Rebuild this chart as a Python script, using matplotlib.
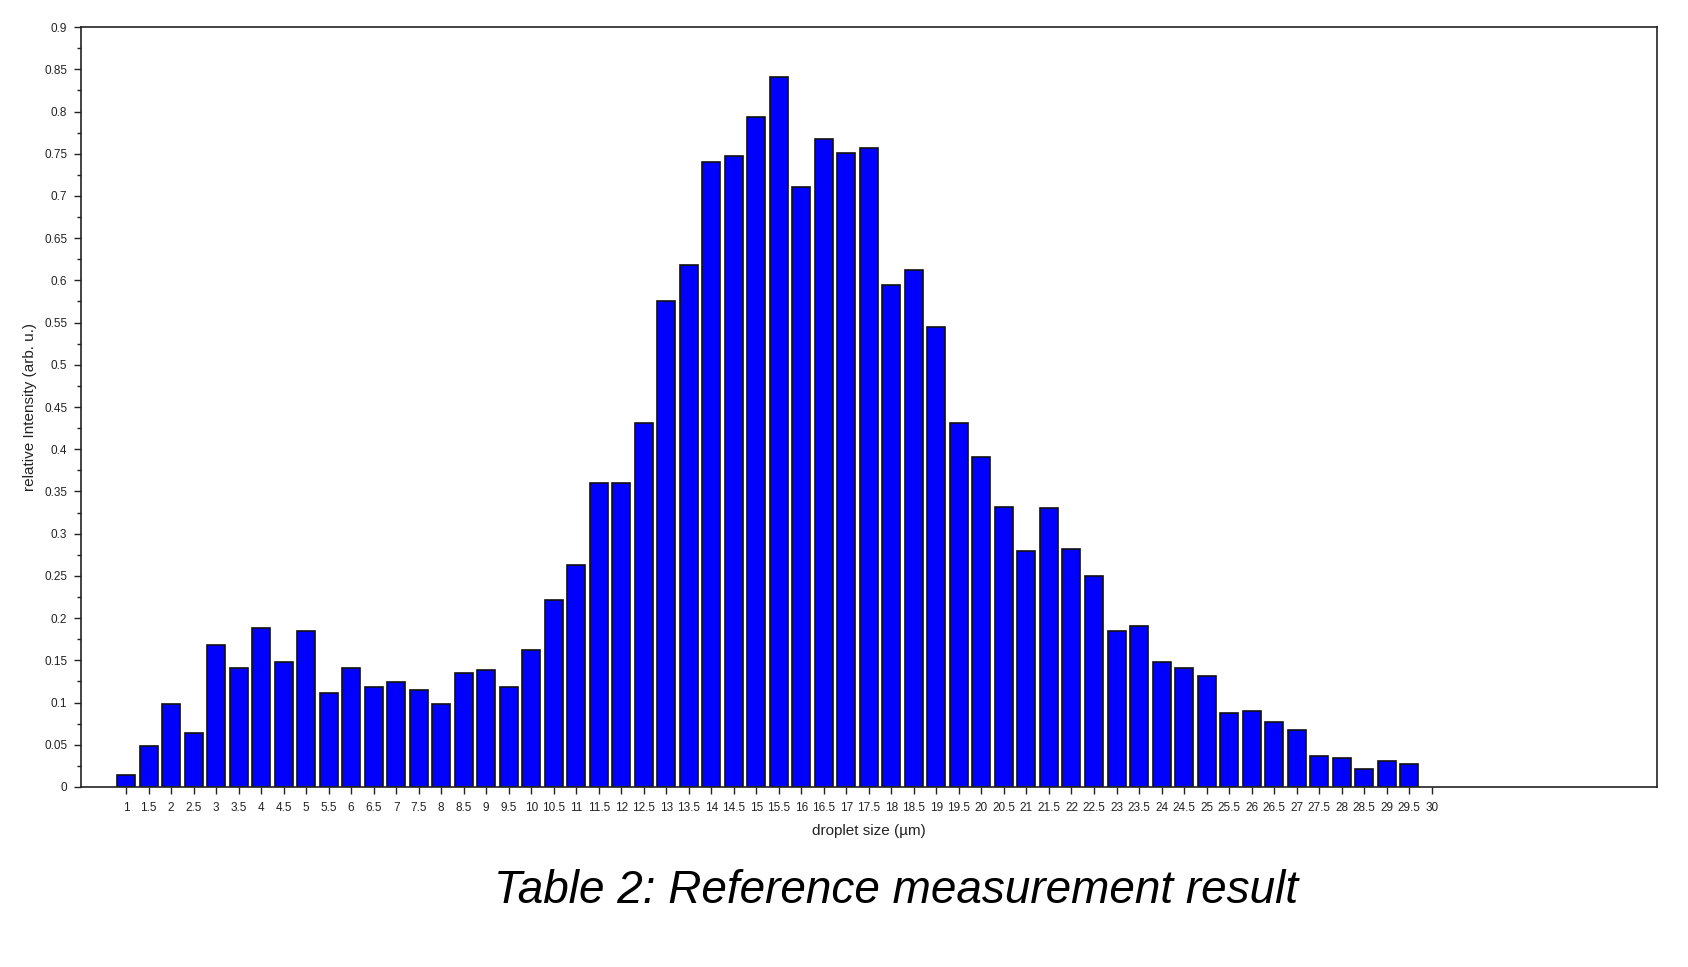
import numpy as np
import matplotlib
matplotlib.use("Agg")
import matplotlib.pyplot as plt
from matplotlib.ticker import MultipleLocator, FuncFormatter

plt.rcParams['font.family'] = ['Liberation Sans', 'DejaVu Sans']

# droplet size classes (µm) and measured relative intensity
sizes = [1, 1.5, 2, 2.5, 3, 3.5, 4, 4.5, 5, 5.5, 6, 6.5, 7, 7.5, 8, 8.5, 9, 9.5, 10, 10.5,
         11, 11.5, 12, 12.5, 13, 13.5, 14, 14.5, 15, 15.5, 16, 16.5, 17, 17.5, 18, 18.5, 19, 19.5, 20, 20.5,
         21, 21.5, 22, 22.5, 23, 23.5, 24, 24.5, 25, 25.5, 26, 26.5, 27, 27.5, 28, 28.5, 29, 29.5]
intensity = [0.014, 0.048, 0.098, 0.064, 0.168, 0.141, 0.188, 0.148, 0.185, 0.111,
             0.141, 0.118, 0.124, 0.115, 0.098, 0.135, 0.138, 0.118, 0.162, 0.222,
             0.263, 0.360, 0.360, 0.431, 0.576, 0.618, 0.740, 0.747, 0.793, 0.841,
             0.710, 0.767, 0.751, 0.757, 0.595, 0.612, 0.545, 0.431, 0.391, 0.332,
             0.279, 0.330, 0.282, 0.250, 0.185, 0.191, 0.148, 0.141, 0.131, 0.088,
             0.090, 0.077, 0.067, 0.037, 0.034, 0.021, 0.031, 0.027]
x_ticks = np.arange(1, 30.01, 0.5)

fig = plt.figure(figsize=(16.88, 9.67), dpi=100)
ax = fig.add_axes([0.048, 0.1862, 0.9335, 0.7858])

ax.bar(sizes, intensity, width=0.4, color='#0000ff', edgecolor='#111111', linewidth=1.2)

ax.set_xlim(0, 35)
ax.set_ylim(0, 0.9)
ax.set_xticks(x_ticks)
ax.xaxis.set_major_formatter(FuncFormatter(lambda v, p: '%g' % v))
ax.yaxis.set_major_locator(MultipleLocator(0.05))
ax.yaxis.set_minor_locator(MultipleLocator(0.025))
ax.yaxis.set_major_formatter(FuncFormatter(lambda v, p: '%g' % round(v, 3)))

ax.tick_params(axis='both', which='major', direction='out', length=5, width=1,
               labelsize=8.5, colors='#222222', pad=5)
ax.tick_params(axis='x', pad=6)
ax.tick_params(axis='y', which='minor', direction='out', length=3, width=1, colors='#222222')
for s in ax.spines.values():
    s.set_color('#222222')
    s.set_linewidth(1.2)

ax.set_xlabel('droplet size (µm)', fontsize=11, color='#222222', labelpad=7)
ax.set_ylabel('relative Intensity (arb. u.)', fontsize=11, color='#222222', labelpad=5)

fig.text(0.531, 0.079, 'Table 2: Reference measurement result', fontsize=33,
         style='italic', ha='center', va='center', color='black')

fig.savefig('out.png', dpi=100)
